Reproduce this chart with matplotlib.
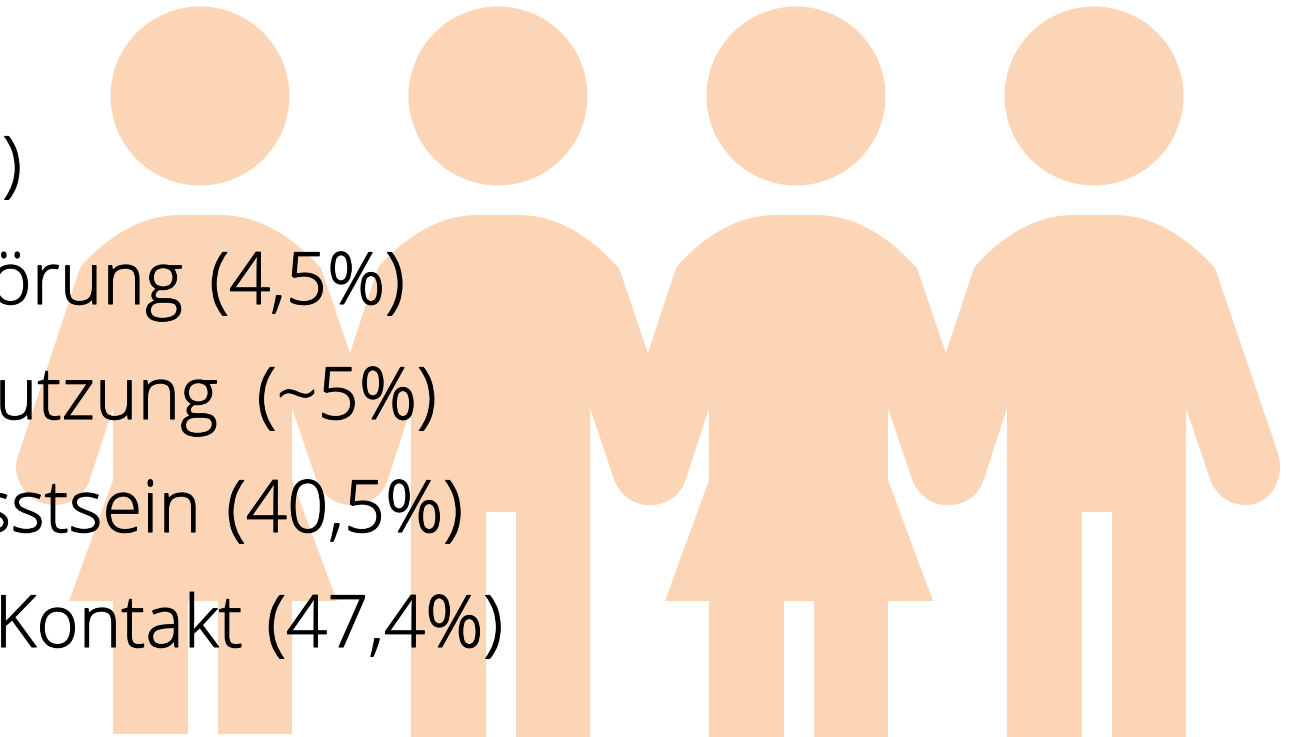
import matplotlib
matplotlib.use("Agg")
import matplotlib.pyplot as plt
import matplotlib.patheffects as pe
from matplotlib.patches import Circle, PathPatch
from matplotlib.path import Path

W, H = 1296, 737
words = ["", "örung", "utzung", "sstsein", "Kontakt"]
word_right = [0, 183, 218, 201, 243]
values = [")", "(4,5%)", "(~5%)", "(40,5%)", "(47,4%)"]
value_right = [22, 405, 437, 463, 503]
label_y = [169, 285, 400, 513, 628]
people = ["f", "m", "f", "m"]
centers = [200, 498, 796, 1094]
bottoms = [734, 740, 740, 740]
color = "#FBD5B5"

plt.rcParams["font.family"] = ["Open Sans", "DejaVu Sans"]
fig = plt.figure(figsize=(W / 100, H / 100), dpi=100)
ax = fig.add_axes([0, 0, 1, 1])
ax.set_xlim(0, W)
ax.set_ylim(H, 0)
ax.axis("off")


def person(cx, kind, bottom):
    ax.add_patch(Circle((cx, 96), 89.5, fc=color, ec="none"))
    v = [(-20, 215)]
    c = [Path.MOVETO]

    def line(*pts):
        for p in pts:
            v.append(p)
            c.append(Path.LINETO)

    def curve(*pts):
        for p in pts:
            v.append(p)
            c.append(Path.CURVE4)

    curve((-62, 215), (-95, 240), (-118, 265))
    line((-120, 268), (-181, 453))
    curve((-183, 459), (-184, 462), (-184, 467))
    curve((-184, 487), (-167, 505), (-146, 505))
    curve((-128, 505), (-115, 495), (-110, 479))
    line((-87, 408))
    if kind == "f":
        line((-87, 480), (-131, 601), (-87, 601), (-87, bottom), (-12, bottom),
             (-12, 601), (18, 601), (18, bottom), (92, bottom), (92, 601),
             (137, 601), (92, 480))
    else:
        line((-87, bottom), (-12, bottom), (-12, 512), (18, 512), (18, bottom), (92, bottom))
    line((92, 408), (116, 479))
    curve((122, 496), (136, 505), (152, 505))
    curve((172, 505), (186, 487), (186, 467))
    curve((186, 461), (185, 457), (184, 453))
    line((121, 268), (118, 265))
    curve((95, 240), (62, 215), (20, 215))
    line((-20, 215))
    v.append((-20, 215))
    c.append(Path.CLOSEPOLY)
    path = Path([(cx + x, y) for x, y in v], c)
    ax.add_patch(PathPatch(path, fc=color, ec="none"))


for cx, kind, b in zip(centers, people, bottoms):
    person(cx, kind, b)

effect = [pe.withStroke(linewidth=0.8, foreground="black")]
for w, wx, t, x, y in zip(words, word_right, values, value_right, label_y):
    if w:
        ax.text(wx, y, w, ha="right", va="center", fontsize=52, color="black",
                fontweight="light", path_effects=effect)
    ax.text(x, y, t, ha="right", va="center", fontsize=52, color="black",
            fontweight="light", path_effects=effect)

fig.savefig("out.png", dpi=100)
